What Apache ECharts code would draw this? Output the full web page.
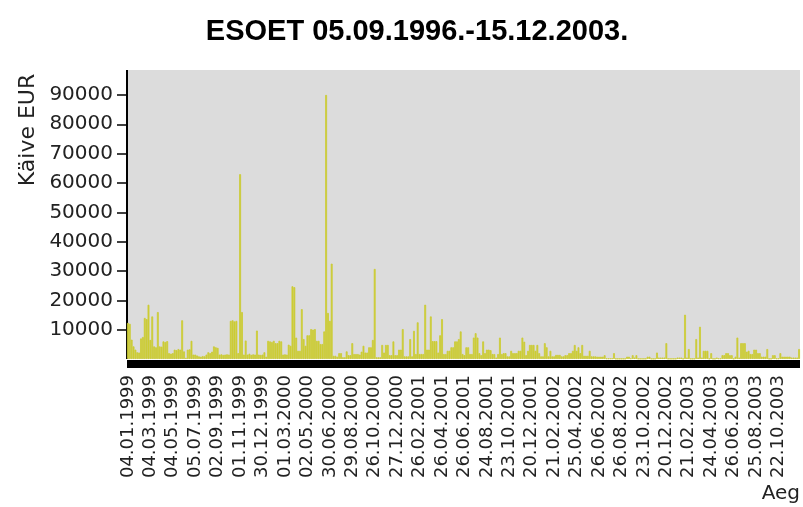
<!DOCTYPE html>
<html>
<head>
<meta charset="utf-8">
<script src="https://cdn.jsdelivr.net/npm/echarts@6.0.0/dist/echarts.min.js"></script>
<style>
	html,body{margin:0;padding:0;background:#fff;}
	#chart{width:803px;height:507px;}
</style>
</head>
<body>
<div id="chart"></div>
<script>
// dates shown under the axis, one every 12 bars
var tickLabels = ['04.01.1999','04.03.1999','04.05.1999','05.07.1999','02.09.1999','01.11.1999','30.12.1999',
	'01.03.2000','02.05.2000','30.06.2000','29.08.2000','26.10.2000','27.12.2000','26.02.2001','26.04.2001',
	'26.06.2001','24.08.2001','23.10.2001','20.12.2001','21.02.2002','25.04.2002','26.06.2002','26.08.2002',
	'23.10.2002','20.12.2002','21.02.2003','24.04.2003','26.06.2003','25.08.2003','22.10.2003'];
var perTick = 12;

// turnover EUR
var values = [
	12300,12000,6600,4300,3200,2300,2200,7000,7500,14000,13600,18500,
	6500,14500,4300,4000,16000,4300,4200,6000,5800,6100,2000,1800,
	2000,3200,3000,3400,3200,13200,2600,400,3200,3300,6200,1500,
	1500,1200,900,800,1000,900,1500,2300,2000,2500,4300,4000,
	3800,1500,1600,1400,1500,1600,1500,13000,13200,12800,13000,2000,
	63000,16000,1500,6300,1500,1800,1400,1600,1500,9700,1500,1400,
	1500,2300,800,6200,6000,5800,6200,5400,5400,6200,6000,1500,
	1600,1500,4900,4500,24800,24500,7300,2800,2800,17000,6800,4500,
	8100,8100,10200,10000,10200,6200,6200,5100,5100,9400,90000,15700,
	13000,32500,1100,1100,800,2000,2000,600,600,2600,1300,1300,
	5400,1700,1700,1700,1500,2500,4500,2200,2200,4000,4000,6500,
	30700,600,600,600,4800,2200,4800,4800,1300,1300,6000,1300,
	1300,3200,3200,10200,900,900,900,6800,900,9600,1700,12500,
	1700,1700,1700,18500,3200,3200,14500,6100,6100,6100,2200,8100,
	13600,1700,1700,2800,2800,4000,4000,6000,6000,6800,9400,1700,
	1300,4000,4000,1700,1700,7300,8800,7300,2000,1300,6000,2000,
	3200,3200,3000,1700,1700,500,1700,7300,1700,2000,2000,900,
	900,2800,2000,2000,2000,2800,2800,7300,5900,1300,2800,4800,
	4800,4800,2800,4800,2000,900,900,5400,4000,900,2800,900,
	900,1400,1400,1400,900,900,1300,1300,2000,2000,2800,4800,
	2800,4000,2000,4800,1100,1100,1100,2800,900,900,900,800,
	800,800,800,1300,200,200,200,200,2000,100,100,100,
	100,100,100,800,800,200,1300,500,1300,100,100,100,
	100,100,800,800,100,100,100,2200,500,500,500,500,
	5400,100,100,100,100,100,500,500,500,100,15100,500,
	3400,100,100,100,6800,500,11000,500,2800,2800,2800,100,
	2000,100,100,500,200,200,1300,1300,2000,2000,1300,1300,
	100,800,7300,500,5400,5400,5400,2500,2800,1700,1700,3200,
	3200,2000,2000,800,800,800,3400,100,100,1300,1300,200,
	200,2000,800,800,800,800,800,500,500,500,500,3400
];

var yTicks = [10000,20000,30000,40000,50000,60000,70000,80000,90000];

var days = [];
for (var i = 0; i < values.length; i++) {
	days.push(String(i));
}

var myChart = echarts.init(document.getElementById('chart'));
myChart.setOption({
	animation: false,
	title: {
		text: 'ESOET 05.09.1996.-15.12.2003.',
		left: 412,
		top: 12,
		textAlign: 'center',
		textStyle: {
			fontFamily: 'Liberation Sans',
			fontWeight: 'bold',
			fontSize: 29,
			color: '#000'
		}
	},
	grid: {
		left: 127,
		right: 3,
		top: 70,
		bottom: 148,
		show: true,
		backgroundColor: '#dcdcdc',
		borderWidth: 0
	},
	xAxis: {
		type: 'category',
		data: days,
		offset: 5,
		axisLine: { onZero: false, lineStyle: { color: '#000', width: 8, cap: 'butt' } },
		axisTick: { show: false },
		axisLabel: {
			interval: perTick - 1,
			rotate: 90,
			margin: 11,
			fontFamily: 'DejaVu Sans',
			fontSize: 18,
			color: '#222',
			formatter: function(v, idx){
				return tickLabels[Math.round(idx / perTick)] || '';
			}
		}
	},
	yAxis: {
		type: 'value',
		min: 0,
		max: 98500,
		splitLine: { show: false },
		axisLine: { show: true, lineStyle: { color: '#000', width: 2, cap: 'butt' } },
		axisTick: { show: true, length: 10, customValues: yTicks, lineStyle: { color: '#000', width: 1.5 } },
		axisLabel: {
			customValues: yTicks,
			margin: 14,
			fontFamily: 'DejaVu Sans',
			fontSize: 20,
			color: '#222',
			formatter: function(v){
				return String(v);
			}
		}
	},
	graphic: [{
		type: 'text',
		x: 28,
		y: 130,
		rotation: Math.PI / 2,
		style: {
			text: 'Käive EUR',
			font: '22px "DejaVu Sans"',
			fill: '#222',
			align: 'center',
			verticalAlign: 'middle',
			textAlign: 'center',
			textVerticalAlign: 'middle'
		}
	},{
		type: 'text',
		right: 3,
		top: 484,
		style: {
			text: 'Aeg',
			font: '20px "DejaVu Sans"',
			fill: '#222'
		}
	}],
	series: [{
		type: 'bar',
		data: values,
		barCategoryGap: '0%',
		itemStyle: { color: '#cccc33', borderColor: '#cccc33', borderWidth: 0.8 }
	}]
});
</script>
</body>
</html>
